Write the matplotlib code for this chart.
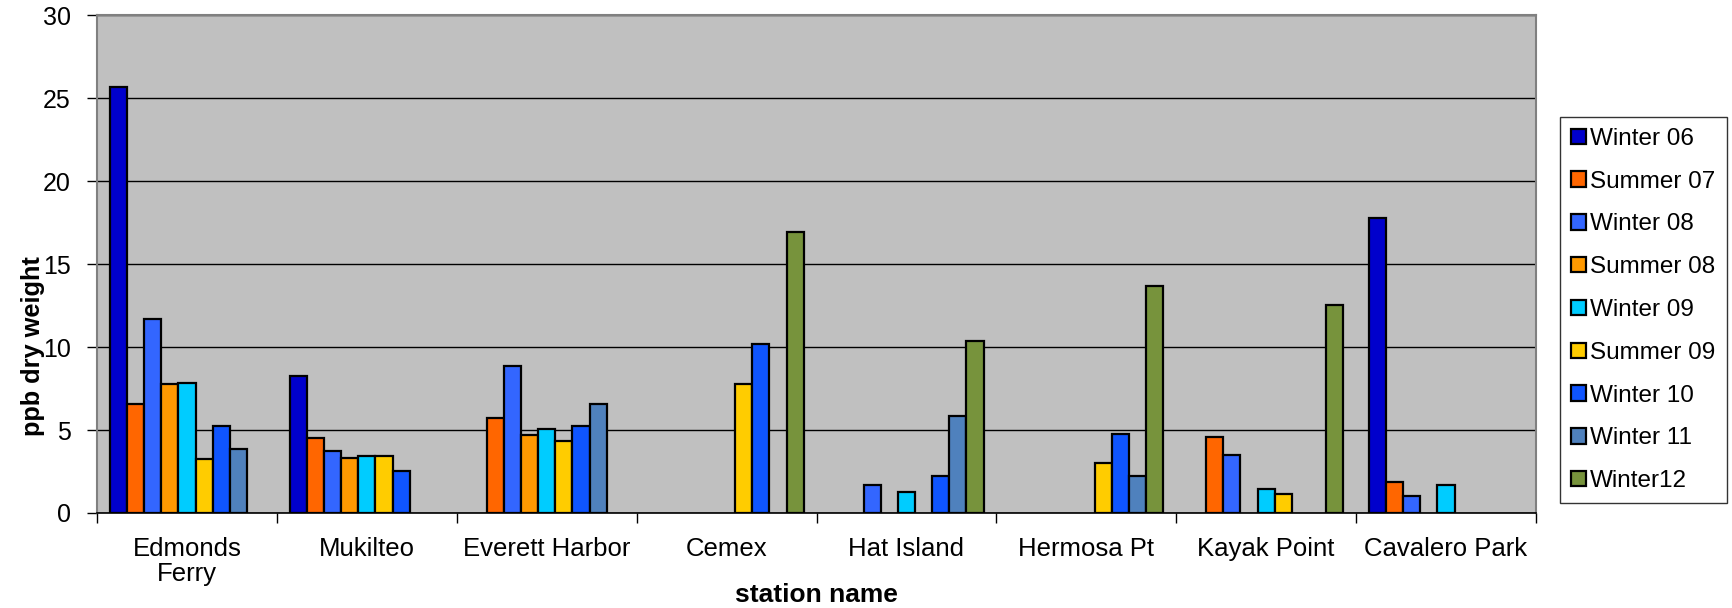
import numpy as np
import matplotlib
matplotlib.use("Agg")
import matplotlib.pyplot as plt
from matplotlib.patches import Patch

nan = np.nan
stations = ["Edmonds\nFerry", "Mukilteo", "Everett Harbor", "Cemex", "Hat Island",
            "Hermosa Pt", "Kayak Point", "Cavalero Park"]
series_names = ["Winter 06", "Summer 07", "Winter 08", "Summer 08", "Winter 09",
                "Summer 09", "Winter 10", "Winter 11", "Winter12"]

winter06 = [25.66, 8.24, nan, nan, nan, nan, nan, 17.81]
summer07 = [6.54, 4.50, 5.73, nan, nan, nan, 4.58, 1.85]
winter08 = [11.70, 3.76, 8.85, nan, 1.69, nan, 3.52, 1.00]
summer08 = [7.80, 3.34, 4.72, nan, nan, nan, nan, nan]
winter09 = [7.84, 3.44, 5.07, nan, 1.24, nan, 1.45, 1.71]
summer09 = [3.28, 3.44, 4.36, 7.78, nan, 3.02, 1.12, nan]
winter10 = [5.23, 2.53, 5.22, 10.17, 2.25, 4.78, nan, nan]
winter11 = [3.84, nan, 6.55, nan, 5.87, 2.23, nan, nan]
winter12 = [nan, nan, nan, 16.93, 10.39, 13.71, 12.55, nan]

series = [winter06, summer07, winter08, summer08, winter09, summer09, winter10, winter11, winter12]
colors = ["#0000CC", "#FF6600", "#3366FF", "#FF9900", "#00CCFF", "#FFCC00",
          "#0F55FF", "#4F81BD", "#77933C"]

plt.rcParams['font.family'] = ['Liberation Sans', 'DejaVu Sans']

fig = plt.figure(figsize=(17.33, 6.08), dpi=100)
ax = fig.add_axes([0.056, 0.1563, 0.8303, 0.8184])
ax.set_facecolor("#C0C0C0")

n = len(series)
group = 0.857
bw = group / n
x = np.arange(len(stations))
for i, (vals, c) in enumerate(zip(series, colors)):
    offs = -group / 2 + bw * (i + 0.5)
    ax.bar(x + offs, vals, width=bw, color=c, edgecolor="black", linewidth=1.6, zorder=3)

ax.set_xlim(-0.5, len(stations) - 0.5)
ax.set_ylim(0, 30)
ax.set_yticks(np.arange(0, 31, 5))
ax.yaxis.grid(True, color="black", linewidth=1.0, zorder=0)
ax.set_axisbelow(True)

ax.set_xticks(x)
ax.set_xticklabels(stations, fontsize=18.5, linespacing=1.1)
ax.tick_params(axis='x', length=0, pad=17)
ax.set_xticks(np.arange(-0.5, len(stations), 1.0), minor=True)
ax.tick_params(axis='x', which='minor', length=7, width=1, color="black", direction="out")
ax.tick_params(axis='y', labelsize=18, length=7, width=1, direction="out", pad=12)

for s in ["top", "right", "left"]:
    ax.spines[s].set_color("#808080")
    ax.spines[s].set_linewidth(1.5)
ax.spines["bottom"].set_color("black")
ax.spines["bottom"].set_linewidth(1.2)

ax.set_xlabel("station name", fontsize=19, fontweight="bold")
ax.xaxis.set_label_coords(0.5, -0.14)
ax.set_ylabel("ppb dry weight", fontsize=18.3, fontweight="bold")
ax.yaxis.set_label_coords(-0.036, 0.335)

handles = [Patch(facecolor=c, edgecolor="black", linewidth=1.6) for c in colors]
leg = fig.legend(handles, series_names, loc="upper left", bbox_to_anchor=(1560 / 1733, 1 - 117 / 608),
                 fontsize=17.5, frameon=True, fancybox=False, edgecolor="black",
                 handlelength=0.6, handleheight=0.6, handletextpad=0.2, labelspacing=0.855,
                 borderpad=0.45, borderaxespad=0)
leg.get_frame().set_linewidth(1.0)

fig.savefig("out.png", dpi=100)
